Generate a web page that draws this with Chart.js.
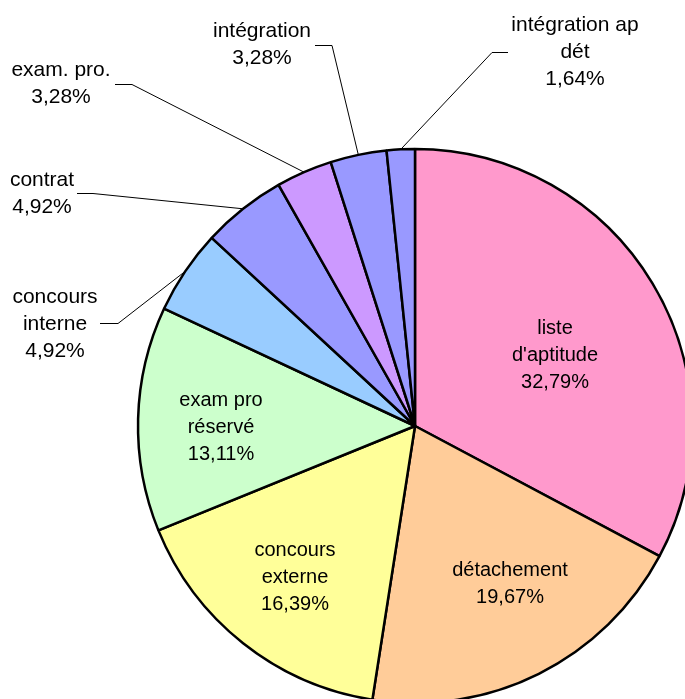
<!DOCTYPE html>
<html lang="fr">
<head>
  <title>Répartition</title>
  <meta charset="utf-8">
  <script src="https://cdn.jsdelivr.net/npm/chart.js@4/dist/chart.umd.min.js"></script>
  <style>
  body { margin: 0; background: #fff; overflow: hidden; }
  canvas { display: block; }
  </style>
</head>
<body>

<canvas id="canvas" width="685" height="699"></canvas>

<script>

    // data (61 in total)
    var categories = ["liste d'aptitude", "détachement", "concours externe", "exam pro réservé",
                      "concours interne", "contrat", "exam. pro.", "intégration", "intégration ap dét"];
    var counts = [20, 12, 10, 8, 3, 3, 2, 2, 1];
    var sliceColors = ['#FF99CC', '#FFCC99', '#FFFF99', '#CCFFCC', '#99CCFF',
                       '#9999FF', '#CC99FF', '#9999FF', '#9999FF'];
    var labelLines = [["liste", "d'aptitude"], ["détachement"], ["concours", "externe"], ["exam pro", "réservé"],
                      ["concours", "interne"], ["contrat"], ["exam. pro."], ["intégration"], ["intégration ap", "dét"]];

    // where each label sits (centre x, middle of first line) and its leader stub
    var labelPos = [[555, 328], [510, 570], [295, 550], [221, 400], [55, 297], [42, 180], [61, 70], [262, 31], [575, 25]];
    var stubs = [null, null, null, null, [100, 118, 323], [77, 93, 193], [115, 132, 84], [315, 332, 45], [508, 492, 52]];

    var total = counts.reduce(function(a, b) { return a + b; }, 0);
    function pct(v) {
      return (v / total * 100).toFixed(2).replace('.', ',') + '%';
    }

    var labelPlugin = {
      id: 'sliceLabels',
      afterDatasetsDraw: function(chart) {
        var ctx = chart.ctx;
        var arcs = chart.getDatasetMeta(0).data;
        ctx.save();
        arcs.forEach(function(arc, i) {
          var outside = stubs[i] !== null;
          if (outside) {
            var mid = (arc.startAngle + arc.endAngle) / 2;
            var px = arc.x + Math.cos(mid) * arc.outerRadius;
            var py = arc.y + Math.sin(mid) * arc.outerRadius;
            ctx.strokeStyle = '#000';
            ctx.lineWidth = 1;
            ctx.beginPath();
            ctx.moveTo(stubs[i][0], stubs[i][2] + 0.5);
            ctx.lineTo(stubs[i][1], stubs[i][2] + 0.5);
            ctx.lineTo(px, py);
            ctx.stroke();
          }
          var lines = labelLines[i].concat([pct(counts[i])]);
          ctx.fillStyle = '#000';
          ctx.font = (outside ? '21px' : '20px') + ' "Liberation Sans", Arial, sans-serif';
          ctx.textAlign = 'center';
          ctx.textBaseline = 'middle';
          lines.forEach(function(t, k) {
            ctx.fillText(t, labelPos[i][0], labelPos[i][1] + k * 27);
          });
        });
        ctx.restore();
      }
    };

    var ctx = document.getElementById('canvas').getContext('2d');
    window.myPie = new Chart(ctx, {
      type: 'pie',
      data: {
        labels: categories,
        datasets: [{
          data: counts,
          backgroundColor: sliceColors,
          borderColor: '#000',
          borderWidth: 2.5
        }]
      },
      options: {
        responsive: false,
        animation: false,
        devicePixelRatio: 1,
        radius: 277,
        layout: { padding: { left: 145, top: 153, right: 0, bottom: 0 } },
        plugins: {
          legend: { display: false },
          tooltip: { enabled: false }
        }
      },
      plugins: [labelPlugin]
    });

  </script>

</body>
</html>
